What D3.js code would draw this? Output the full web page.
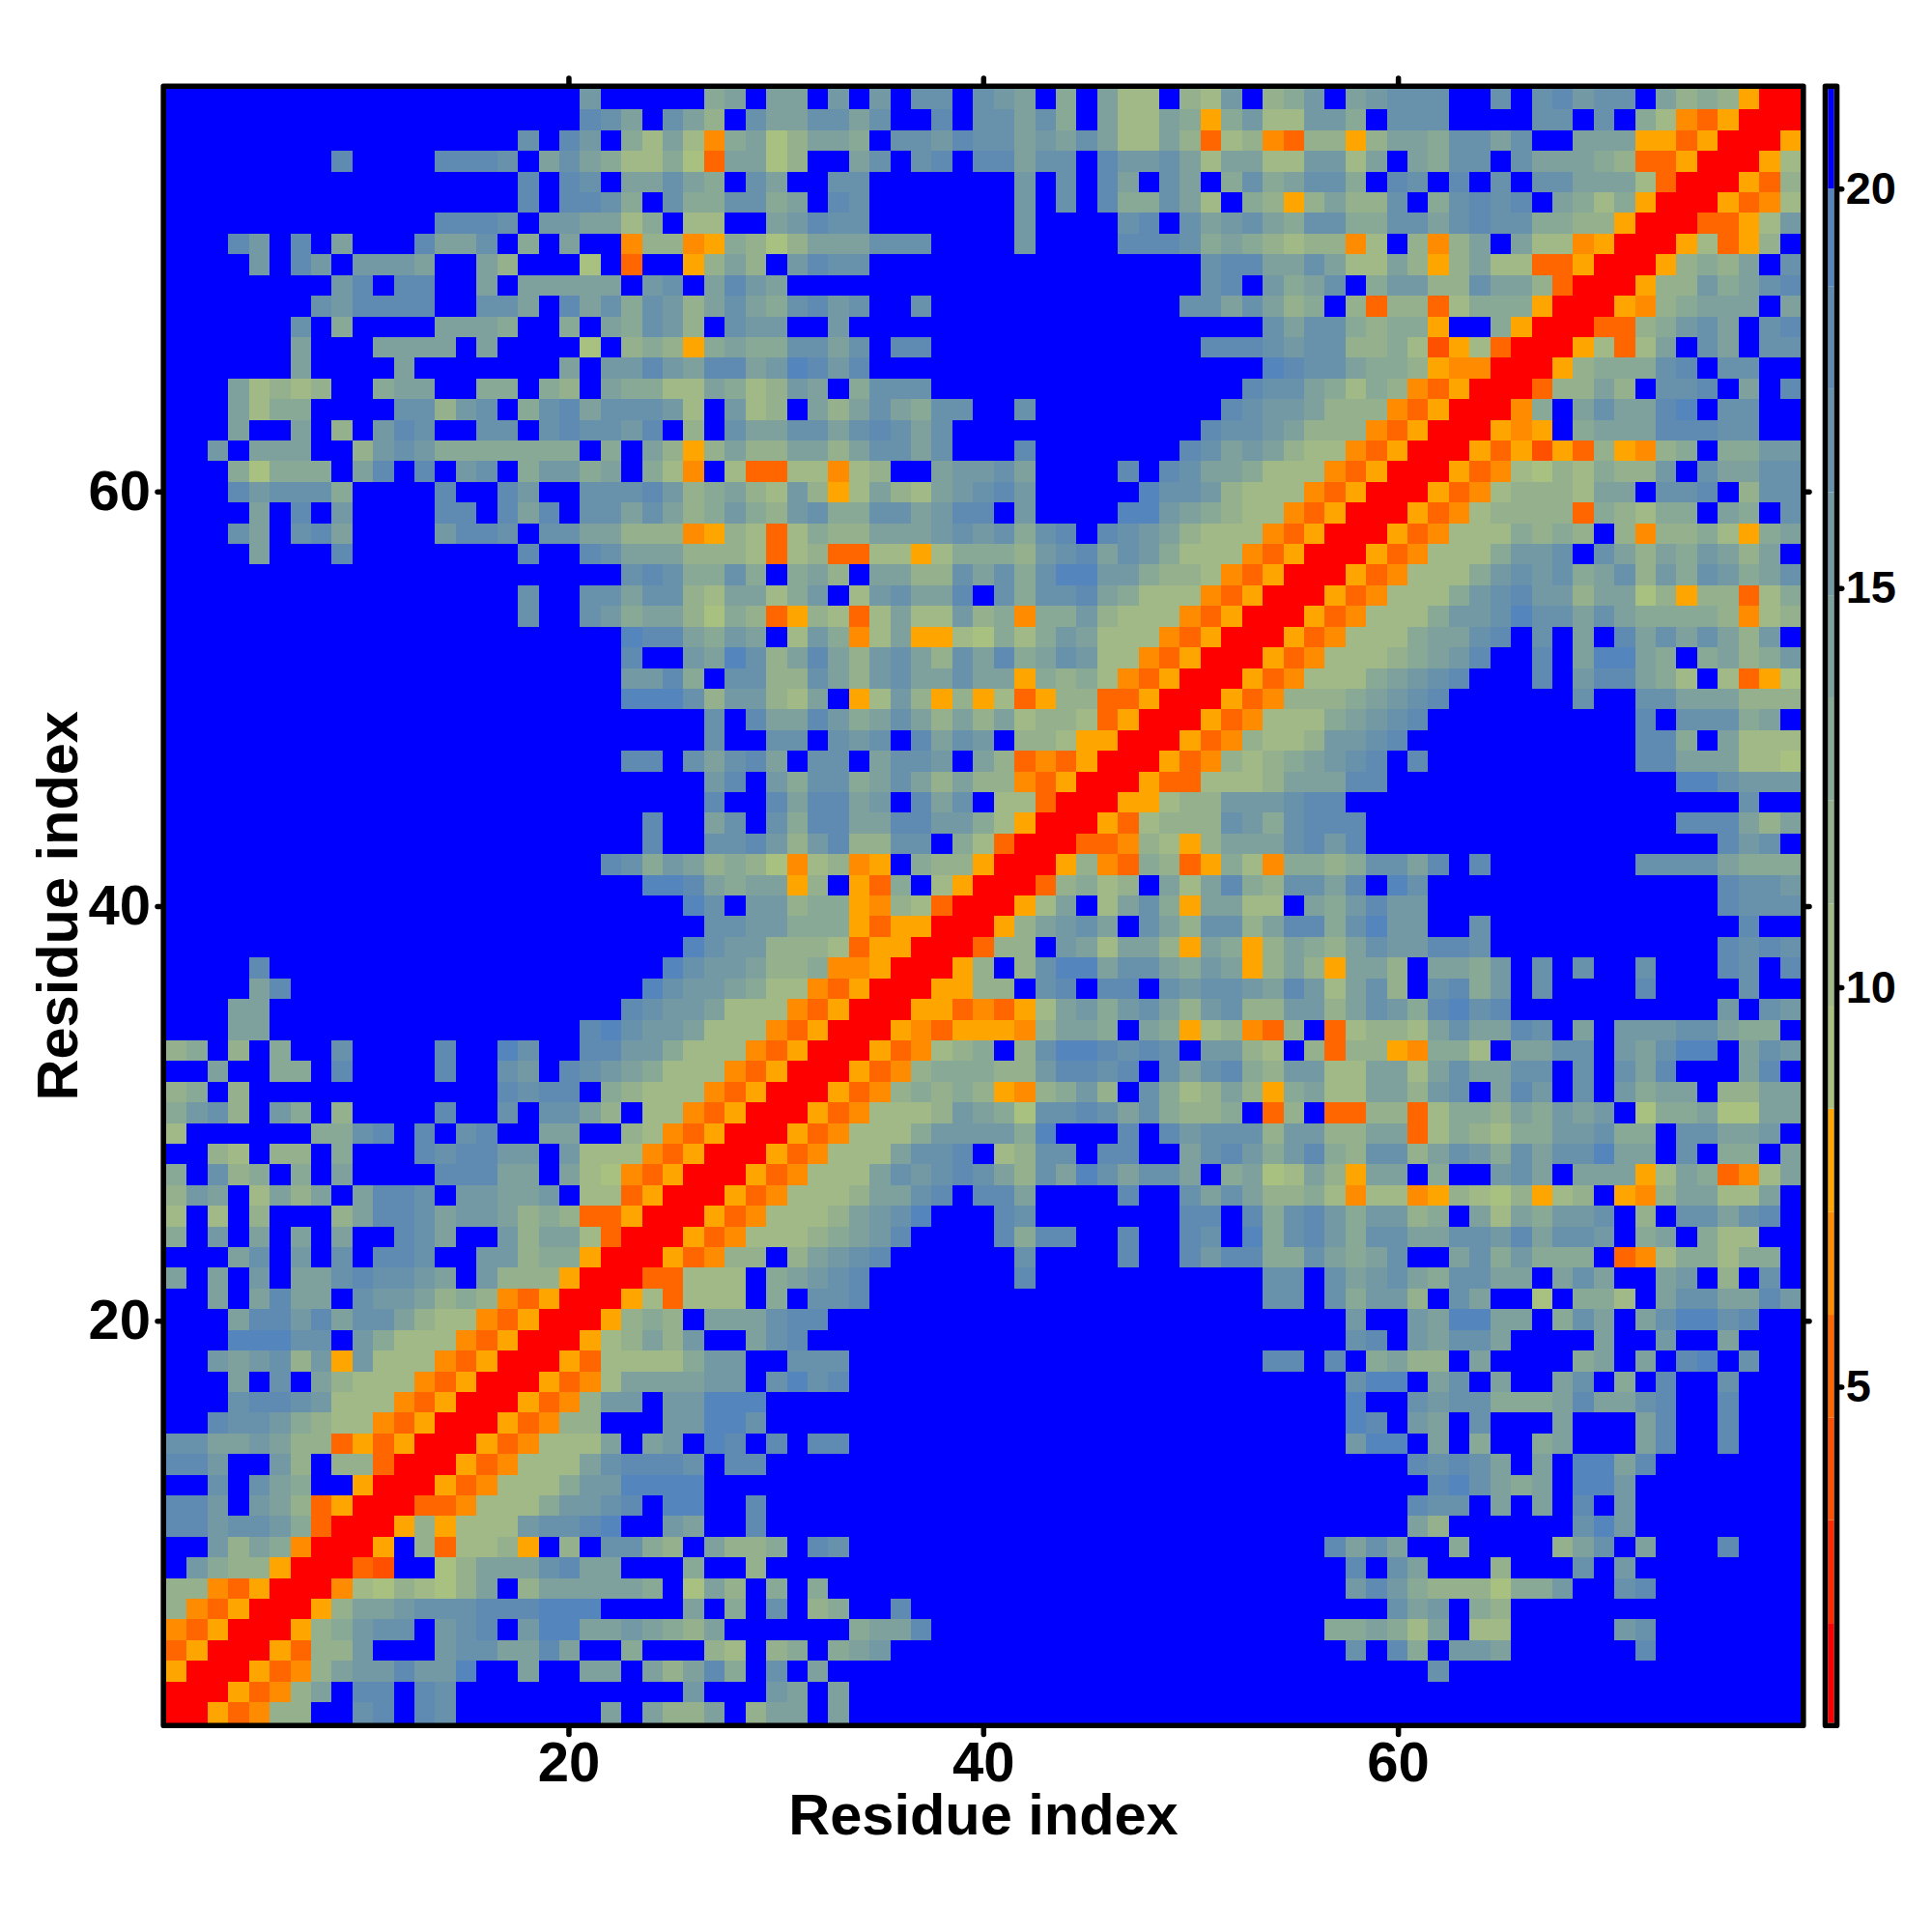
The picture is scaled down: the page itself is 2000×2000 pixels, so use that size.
<!DOCTYPE html>
<html>
<head>
<meta charset="utf-8">
<script src="https://cdn.jsdelivr.net/npm/d3@7"></script>
<style>html,body{margin:0;background:#fff}</style>
</head>
<body>
<script>
// One row per residue, top row = residue 79. Each character is a binned error level (see levelValues).
const errorRows = [
".......... .......... 4.... .65.55.4.4 .33.345.6. 588.784 .764.54333 ..3.32433. 5767faa",
".......... .......... 235.3 57.3553353 ..2.33536. 58856f6 488446.333 ....33.3.6 8edfaaa",
".......... .......3.2 4.685 8e6597556. 3342335453 58857d8 7ed77f7556 3353..555f fdfaaaf",
"........2. ...2223.53 56886 9d5597..53 .32.22533. 2443585 5884485.56 33.355567d dfaaaf8",
".......... .......2.2 3.553 56.35..33. ......4.3. 25.35.6 365336.23. 2.3.335558 daaafd7",
".......... .......2.2 236.3 663365.23. ......4.3. 266358. 67f75773.6 3232.5686f aaafde8",
".......... ...2223.44 5586. 88..54233. ......4... .32.354 3563366335 32336677fa aaddf84",
"...24.2.5. ..2553.6.5 ..e77 ef67975553 33....4... .222365 67877e8.7e 75.588efaa af8df7.",
"....4.24.4 445..57... 9.d.. f757.4233. .......... .....32 255358857f 7588ddfaaa f7675.3",
"........42 .22..5.555 55.43 .5245..... .......... .....32 .4653.6447 73557daaaf 7746532",
".......342 222..335.2 53634 753563243. .3........ ....335 3576.7d77d 8666faaafe 76555.5",
"......3.6. ...5556..6 .5634 7.344..4.. .......... ....... .35336766f ..6faaadd7 6435.32",
"......5... 5555.5.... 9.767 f65663353. 22........ .....22 234337768c f8daaaf8d8 5.35.33",
"......5... .5.......5 .4424 522541242. .......... ....... .12335667f eeaaaf7666 32.33..",
"...58787.. 655..66.67 .5668 8568745.63 33........ ....... 23356867ed faaad7757. 332.5.2",
"...5866... .33743.632 53334 8.487.5753 5633..3... ......2 3445777edf aaae6.5355 21.33..",
"...5..5.7. 423..33.32 3342. 7.35533532 353....... .....23 345777edfa aafef.6555 22233..",
"..4.555..7 4346666666 .6.57 f757755753 353...2... ....235 45788edfaa afdfcfd7fe 76.6644",
"...69666.5 2.2.43.644 65.68 e.8dd88e87 ..54435... .2.2355 6888edfaaa fde8978677 4.35533",
"...243336. ...2..24.. 33324 7657847f85 7854324... ..13347 888edfaaaf de8777855. 332.733",
"....5.2.4. ...22.252. 33535 7646743663 35422.4... .114567 88edfaaafd e87777d678 66.56.3",
"...35.325. ...4223.33 55777 ef78d86775 554343632. 2345788 8edfaaafde 8886767.7e 7768f65",
"....5...2. .......2.. 23555 7778d87dd8 8f86667432 5346888 edfaaafde8 886443.357 564575.",
".......... .......... ..323 6636.657.5 5773536311 446778e dfaaafde88 8643436537 4634653",
".......... .......3.. 33533 7855864.84 3552.36332 56888ed faaafde888 6432447559 7f77d86",
".......... .......3.. 34655 7967df78d8 588476e664 7888edf aaafde8886 4431335356 6667e87",
".......... .......... ..122 5645.846e8 5ff8968645 888edfa aafde88865 532.3.5.25 353574.",
".......... .......... ..2.. 4513752574 3573526534 88edfaa afde888765 42..2.5115 6.65764",
".......... .......... ..442 6.33773574 355355f676 8edfaaa fde8886543 2...2.4225 68.8df9",
".......... .......... ..111 3744785.f8 47f7f8df77 ddfaaaf de77765432 ......3..3 3555777",
".......... .......... ..... .3.2552465 3575758778 dfaaafd e88865432. .........2 .33365.",
".......... .......... ..... .3..33.343 .2534.778f faaafde 78874432.. .........2 26.5888",
".......... .......... ..22. 35325.33.5 334.57dedf aaafde7 8765432.2. .........2 2555889",
".......... .......... ..... .42.463365 357577edfa aafdd88 8755522... .......... .113444",
".......... .......... ..... .2..252254 .253.88daa aff8774 44322..... .......... ....3..",
".......... .......... ...2. .53.362255 224468faaa fd87773 463222.... .......... .222575",
".......... .......... ...2. .332474277 33.68daaad de78f75 553242.... .......... ...243.",
".......... .......... .2364 57679e87ef .677faaaf7 ed67df6 8e66763352 .2.......3 3335666",
".......... .......... ...11 25655f7.fd 6.8faaad76 87.5852 673352.13. .......... ...2334",
".......... .......... ..... 13.44766fe 78daaaf85. 8536f55 88.564244. .......... ...2333",
".......... .......... ..... .3344666fd ffaaaf7543 5.35733 752263144. .3........ ....2..",
".......... .......... ..... 13447778df faaad77.45 8557f56 f756753442 23........ ...2323",
"....2..... .......... ....1 3445776eef aaaf7.7311 5335645 f757f557.5 564.3.3..3 ...23.2",
"....52.... .......... ...13 445688edfa aaff77.32. 22.3433 45248537.3 264.3....2 ....3..",
"...55..... .......... ..234 45888edfaa affdedf854 6435743 7744753462 132....... ...4.34",
"...55..... .......... 21344 5888edfaaa fedfffe755 6.56f87 ed7.d87785 35523.5.44 433566.",
"76.7.6..3. ...2..13.. 22446 888edfaaaf de876.7311 2323.44 78.7d77fe6 68.5533.45 311.534",
"..5..66.2. ...2..34.2 34568 88edfaaafd e766677422 32.3532 6744885585 35533.3.35 2...52.",
"76.7...... ......2322 .6788 8edfaaafde 76767fe764 7.36875 7f65885574 3.524.3.46 55.7755",
"6437.46.7. ...2..3.33 57.88 edfaaafde8 8874569332 3536776 .d7.dd77d8 66756454.9 6659955",
"8......663 2.2.32..55 ..78e dfaaafde88 86444461.. .2.2433 37447755d8 6786644366 .33554.",
"..78.77.6. ..232244.4 888ed faaafde888 5332.8733. 22..532 4642673375 3463533155 .3.66.5",
"6.376.6.5. ...22255.5 89edf aaafde8885 3432357351 35335.6 59857f55.6 ..435.555f 856de85",
"745.8575.5 223.44554. 88dfa aafde88875 532.225... .2..353 57768e88ef 7897f87.fe 755885.",
"8.8.7...75 2235445767 ddfaa afde888754 31...23... ....22. 2632464476 .5856443.7 .33532.",
"6.4.5.5.5. .235..4755 8daaa fde8887654 2....2622. .2..23. 1632463355 33425334.6 5.688..",
"...53.4.3. 223..44766 faaaf de77.75432 ......3... .2..242 26635653.. 5364666.de 866866.",
"5.5.4.5532 3345.4777f aaadd 888.65432. ......2... ....... .33.354356 3355.535.. 54.7.3.",
"..5.5255.3 445767edfa aaf8d 888.6.332. .......... ....... .33.36447. 35..9.668. 5335524",
"...5224253 35788edfaa af767 .555322... .......... ....... .....4..45 1155.635.5 31132..",
"...11133.4 6888edfaaa f8757 4..532.... .......... ....... .....32.45 335....5.. 4..5...",
"..454374f4 888edfaaaf d8888 644..333.. .......... ....... .22.2.6577 .5....65.5 .21.3..",
"...5.3.578 88edfaaafd e8555 544.3132.. .......... ....... .....311.5 3.5..53.6. 2..3...",
"...3223488 8edfaaafde 744.4 4111...... .......... ....... .....1..34 3366652553 2..2...",
"..23346788 edfaaafde7 7...4 4113...... .......... ....... .....12.45 .3...5...5 2..2...",
"33554577df dfaaafde88 85.54 .12.2.22.. .......... ....... .....411.5 .6..65...5 2..2...",
"224..47.77 daaafde888 53222 3.22...... .......... ....... ........23 235.5.1152 .......",
"..3.356..f aaafde8886 44111 1......... .......... ....... .........2 13565.114. .......",
"224.457dfa aadde88864 432.1 1..2...... .......... ....... ........23 3.5.5.2.4. .......",
"2243346daa af7f888433 21..4 5..2...... .......... ....... ........57 ......314. .......",
"..4756eaaa f.7d887f.7 .3367 .5776.23.. .......... ....... ....2535.. 6....753.5 ...2...",
".4677faaad c..9755532 55... 6..7...... .......... ....... .....2.35. ..7...3.4. .......",
"77edfaaae8 978975.755 5556. 957.6.6... .......... ....... .....42467 779664..32 .......",
"7edfaaaf75 5433322211 1.... 5.6.3.76.. 2......... ....... .......354 .67....... .......",
"edfaaaf764 33.432.411 55456 75......65 52........ ....... ....665685 .88.....43 .......",
"dfaaafd774 ...4335525 ..6.. .78.76.654 .......... ....... .....3.26. 445......2 .......",
"faaafde754 42441..5.. 55.57 526.3.5... .......... ....... .........3 .......... .......",
"aaafde75.2 2.23...... ..... 4...45.5.. .......... ....... .......... .......... .......",
"aafde77..3 2.23...... .5.57 75.755.5.. .......... ....... .......... .......... ......."
];
// Representative error value (in the colour bar's units) of each level character.
const levelValues = {a:1.4,b:2.7,c:4.0,d:5.2,e:6.5,f:7.8,9:9.1,8:10.4,7:11.7,6:13.0,5:14.2,4:15.5,3:16.8,2:18.1,1:19.4,".":21};
const binEdges = [2.04,3.33,4.61,5.9,7.19,8.48,9.76,11.05,12.34,13.63,14.91,16.2,17.49,18.78,20.0];
const binColors = ["#ff0000","#ff2a00","#ff5000","#ff6600","#ff8c00","#ffa500","#a8c080","#a0b986","#94b08d","#88a996","#7ea19d","#739aa4","#6892ab","#5f8bb3","#5585bd","#0000ff"];
const axisTicks = [20,40,60];
const barTicks = [5,10,15,20];
const barDomain = [0.79,21.25];
const axisTitle = "Residue index";
const nResidues = 79;
const tickDomain = [0.6,79.42];

const groupWidths = [10,10,5,10,10,7,10,10,7];
const matrix = errorRows.map(r => r.split(" ").map((g,i)=>g.padEnd(groupWidths[i],".").slice(0,groupWidths[i])).join("").split("").map(c=>levelValues[c]));

const W=2000,H=2000;
const left=172,right=1864,top_=92,bottom=1783.5;
const FONT='"Liberation Sans", Arial, sans-serif';
const BORDER=5.6;

const x=d3.scaleLinear().domain([0.5,nResidues+0.5]).range([left,right]);
const y=d3.scaleLinear().domain([0.5,nResidues+0.5]).range([bottom,top_]);
const xTick=d3.scaleLinear().domain(tickDomain).range([left,right]);
const yTick=d3.scaleLinear().domain(tickDomain).range([bottom,top_]);
const color=d3.scaleThreshold().domain(binEdges).range(binColors);

const svg=d3.select("body").append("svg").attr("width",W).attr("height",H).style("display","block");

const cells=matrix.flatMap((row,i)=>row.map((v,j)=>({res1:j+1,res2:nResidues-i,v})));
svg.append("g").attr("shape-rendering","crispEdges").selectAll("rect").data(cells).join("rect")
  .attr("x",d=>x(d.res1-0.5)).attr("y",d=>y(d.res2+0.5))
  .attr("width",d=>x(d.res1+0.5)-x(d.res1-0.5)).attr("height",d=>y(d.res2-0.5)-y(d.res2+0.5))
  .attr("fill",d=>color(d.v));

function styleAxis(g,fs){
  g.select(".domain").remove();
  g.selectAll(".tick line").attr("stroke","#000").attr("stroke-width",5.5).attr("stroke-linecap","round");
  g.selectAll(".tick text").attr("fill","#000").attr("font-family",FONT).attr("font-weight","bold").attr("font-size",fs);
  g.attr("font-family",null).attr("font-size",null);
}
svg.append("g").attr("transform",`translate(0,${bottom+3})`)
  .call(d3.axisBottom(xTick).tickValues(axisTicks).tickSize(9).tickPadding(7)).call(styleAxis,58);
svg.append("g").attr("transform",`translate(0,${top_-3})`)
  .call(d3.axisTop(xTick).tickValues(axisTicks).tickSize(8).tickFormat("")).call(styleAxis,58);
svg.append("g").attr("transform",`translate(${left-3},0)`)
  .call(d3.axisLeft(yTick).tickValues(axisTicks).tickSize(6).tickPadding(7)).call(styleAxis,58);
svg.append("g").attr("transform",`translate(${right+3},0)`)
  .call(d3.axisRight(yTick).tickValues(axisTicks).tickSize(6).tickFormat("")).call(styleAxis,58);

svg.append("rect").attr("x",left-BORDER/2).attr("y",top_-BORDER/2).attr("width",right-left+BORDER).attr("height",bottom-top_+BORDER)
  .attr("fill","none").attr("stroke","#000").attr("stroke-width",BORDER).attr("stroke-linejoin","round");

svg.append("text").attr("x",(left+right)/2).attr("y",1899).attr("text-anchor","middle")
  .attr("font-family",FONT).attr("font-weight","bold").attr("font-size",59.5).text(axisTitle);
svg.append("text").attr("transform",`translate(80,${(top_+bottom)/2}) rotate(-90)`).attr("text-anchor","middle")
  .attr("font-family",FONT).attr("font-weight","bold").attr("font-size",59.5).text(axisTitle);

// colour bar
const barL=1892.3,barR=1898.7;
const barY=d3.scaleLinear().domain(barDomain).range([bottom,top_]);
const edges=[barDomain[0],...binEdges,barDomain[1]];
svg.append("g").selectAll("rect").data(binColors).join("rect")
  .attr("x",barL).attr("width",barR-barL)
  .attr("y",(d,i)=>barY(edges[i+1])).attr("height",(d,i)=>barY(edges[i])-barY(edges[i+1]))
  .attr("fill",d=>d);
svg.append("g").attr("transform",`translate(${barR+3},0)`)
  .call(d3.axisRight(barY).tickValues(barTicks).tickSize(5).tickPadding(4)).call(styleAxis,47);
svg.append("rect").attr("x",barL-BORDER/2).attr("y",top_-BORDER/2).attr("width",barR-barL+BORDER).attr("height",bottom-top_+BORDER)
  .attr("fill","none").attr("stroke","#000").attr("stroke-width",BORDER).attr("stroke-linejoin","round");
</script>
</body>
</html>
